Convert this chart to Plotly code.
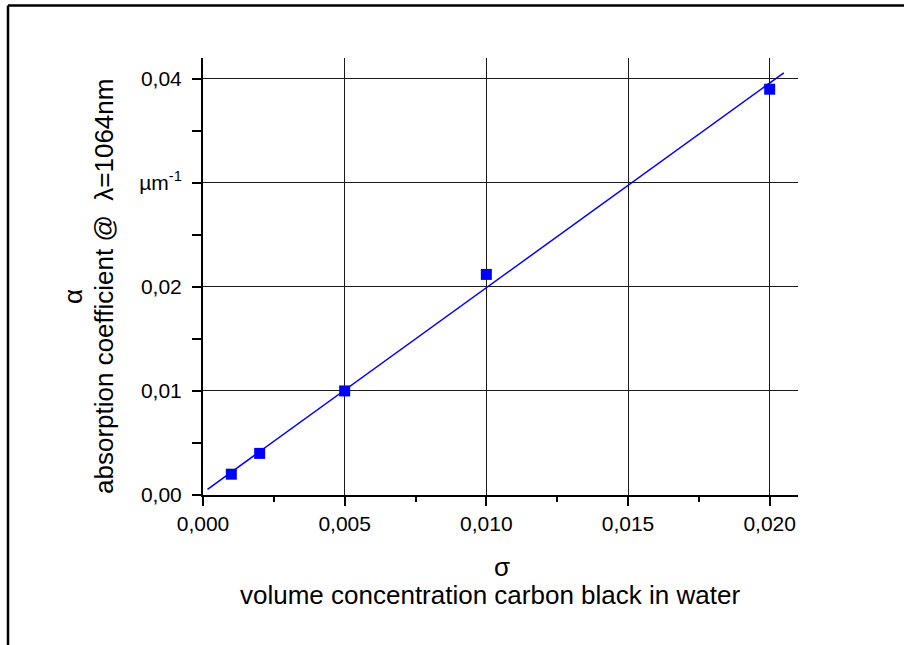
import plotly.graph_objects as go

# ---- data ----
conc = [0.001, 0.002, 0.005, 0.010, 0.020]
alpha = [0.0020, 0.0040, 0.0100, 0.0212, 0.0390]
fit_x = [0.00016, 0.0205]
fit_y = [0.00055, 0.04058]

x_tickvals = [0.000, 0.005, 0.010, 0.015, 0.020]
x_ticktext = ["0,000", "0,005", "0,010", "0,015", "0,020"]
y_tickvals = [0.00, 0.01, 0.02, 0.03, 0.04]
y_ticktext = ["0,00", "0,01", "0,02", "µm<sup>-1</sup>", "0,04"]

W, H = 904, 645
L, R, T, B = 203, 106, 58, 150
PW, PH = W - L - R, H - T - B

def px(xp):
    return (xp - L) / PW

def py(yp):
    return 1 - (yp - T) / PH

FONT = "Liberation Sans, Arial, sans-serif"
BLUE = "#0000ff"

fig = go.Figure()
fig.add_trace(go.Scatter(x=fit_x, y=fit_y, mode="lines",
                         line=dict(color=BLUE, width=1.5),
                         showlegend=False, hoverinfo="skip"))
fig.add_trace(go.Scatter(x=conc, y=alpha, mode="markers",
                         marker=dict(symbol="square", size=11, color=BLUE,
                                     line=dict(width=0)),
                         showlegend=False))

fig.update_xaxes(range=[0, 0.021], tickvals=x_tickvals, ticktext=x_ticktext,
                 ticks="outside", ticklen=9, tickwidth=1.5, tickcolor="black",
                 showline=True, linecolor="black", linewidth=2,
                 showgrid=True, gridcolor="#1a1a1a", gridwidth=1.3,
                 zeroline=False,
                 minor=dict(dtick=0.0025, ticks="outside", ticklen=5,
                            tickwidth=1.5, tickcolor="black", showgrid=False),
                 tickfont=dict(family=FONT, size=21, color="black"))
fig.update_yaxes(range=[0, 0.042], tickvals=y_tickvals, ticktext=y_ticktext,
                 ticks="outside", ticklen=9, tickwidth=1.5, tickcolor="black",
                 showline=True, linecolor="black", linewidth=2,
                 showgrid=True, gridcolor="#1a1a1a", gridwidth=1.3,
                 zeroline=False, ticklabelstandoff=6,
                 minor=dict(dtick=0.005, ticks="outside", ticklen=9,
                            tickwidth=1.5, tickcolor="black", showgrid=False),
                 tickfont=dict(family=FONT, size=21, color="black"))

ann = dict(xref="paper", yref="paper", showarrow=False,
           font=dict(family=FONT, size=26, color="black"))
fig.add_annotation(x=px(502), y=py(584), text="σ", **ann)
fig.add_annotation(x=px(490), y=py(612), text="volume concentration carbon black in water", **ann)
fig.add_annotation(x=px(56), y=py(297), text="α", textangle=-90, **ann)
fig.add_annotation(x=px(87), y=py(287), text="absorption coefficient @\u00a0 λ=1064nm",
                   textangle=-90, **ann)

# page frame
fig.add_shape(type="line", xref="paper", yref="paper", x0=px(8), x1=px(904),
              y0=py(5.5), y1=py(5.5), line=dict(color="black", width=2.5))
fig.add_shape(type="line", xref="paper", yref="paper", x0=px(8), x1=px(8),
              y0=py(5.5), y1=py(645), line=dict(color="black", width=2.5))

fig.update_layout(width=W, height=H, margin=dict(l=L, r=R, t=T, b=B),
                  plot_bgcolor="white", paper_bgcolor="white",
                  font=dict(family=FONT, color="black"))

fig.write_html("out.html")
